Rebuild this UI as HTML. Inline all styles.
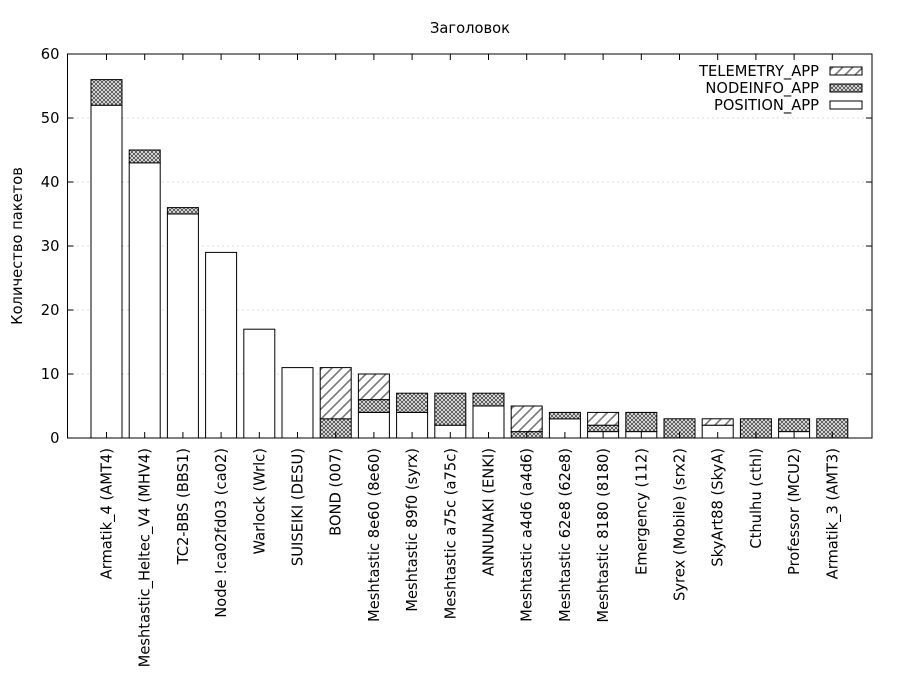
<!DOCTYPE html>
<html><head><meta charset="utf-8"><style>body{margin:0;background:#fff}svg{display:block}text{font-family:"DejaVu Sans",sans-serif;font-size:14.7px;fill:#000}</style></head><body>
<svg width="900" height="700" xmlns="http://www.w3.org/2000/svg">
<defs>
<pattern id="cross" width="4" height="4" patternUnits="userSpaceOnUse"><rect width="4" height="4" fill="#fff"/><path d="M0 0L4 4M4 0L0 4" stroke="#555" stroke-width="1"/></pattern>
<pattern id="diag" width="10" height="10" patternUnits="userSpaceOnUse"><rect width="10" height="10" fill="#fff"/><path d="M-2 12L12 -2M-7 7L7 -7M3 17L17 3" stroke="#777" stroke-width="1.6"/></pattern>
</defs>
<text x="470" y="33" text-anchor="middle">Заголовок</text>
<g id="plot"></g>
<text transform="translate(22,246) rotate(-90)" text-anchor="middle">Количество пакетов</text>
</svg>
<script>
const d=[["Armatik_4 (AMT4)",52,4,0],["Meshtastic_Heltec_V4 (MHV4)",43,2,0],["TC2-BBS (BBS1)",35,1,0],["Node !ca02fd03 (ca02)",29,0,0],["Warlock (Wrlc)",17,0,0],["SUISEIKI (DESU)",11,0,0],["BOND (007)",0,3,8],["Meshtastic 8e60 (8e60)",4,2,4],["Meshtastic 89f0 (syrx)",4,3,0],["Meshtastic a75c (a75c)",2,5,0],["ANNUNAKI (ENKI)",5,2,0],["Meshtastic a4d6 (a4d6)",0,1,4],["Meshtastic 62e8 (62e8)",3,1,0],["Meshtastic 8180 (8180)",1,1,2],["Emergency (112)",1,3,0],["Syrex (Mobile) (srx2)",0,3,0],["SkyArt88 (SkyA)",2,0,1],["Cthulhu (cthl)",0,3,0],["Professor (MCU2)",1,2,0],["Armatik_3 (AMT3)",0,3,0]];
const L=67.5,R=872,T=54,B=438,k=6.4;let s="";
for(let v=0;v<=60;v+=10){const y=B-v*k;if(v>0&&v<60)s+=`<line x1="${L}" x2="${R}" y1="${y}" y2="${y}" stroke="#bbb" stroke-dasharray="1,4"/>`;s+=`<line x1="${L}" x2="${L+6}" y1="${y}" y2="${y}" stroke="#000"/><line x1="${R-6}" x2="${R}" y1="${y}" y2="${y}" stroke="#000"/><text x="${L-8}" y="${y+5}" text-anchor="end">${v}</text>`;}
d.forEach((r,i)=>{const c=106.5+i*38.2,x=c-15.5;let y0=B;[[r[1],"#fff"],[r[2],"url(#cross)"],[r[3],"url(#diag)"]].forEach(([v,f])=>{if(v>0){s+=`<rect x="${x}" y="${y0-v*k}" width="31" height="${v*k}" fill="${f}" stroke="#000" stroke-width="1"/>`;y0-=v*k;}});
s+=`<line x1="${c}" x2="${c}" y1="${B}" y2="${B-6}" stroke="#000"/><line x1="${c}" x2="${c}" y1="${T}" y2="${T+6}" stroke="#000"/><text transform="translate(${c+5},448) rotate(-90)" text-anchor="end">${r[0]}</text>`;});
s+=`<rect x="${L}" y="${T}" width="${R-L}" height="${B-T}" fill="none" stroke="#000"/>`;
[["TELEMETRY_APP","url(#diag)",71],["NODEINFO_APP","url(#cross)",88],["POSITION_APP","#fff",105]].forEach(([t,f,y])=>{s+=`<text x="819" y="${y+5}" text-anchor="end">${t}</text><rect x="830" y="${y-4}" width="32" height="8" fill="${f}" stroke="#000"/>`;});
document.getElementById("plot").innerHTML=s;
</script>
</body></html>
